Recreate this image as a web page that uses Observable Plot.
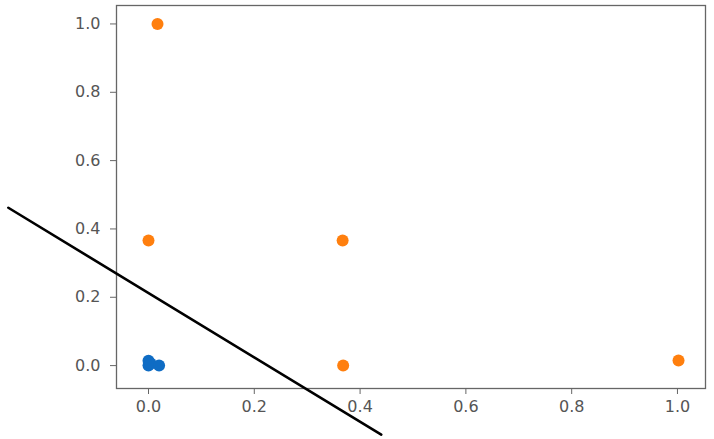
<!DOCTYPE html>
<html>
<head>
<meta charset="utf-8">
<script src="https://cdn.jsdelivr.net/npm/d3@7"></script>
<script src="https://cdn.jsdelivr.net/npm/@observablehq/plot@0.6"></script>
<style>
  html, body { margin: 0; padding: 0; background: #fff; }
  #chart svg { display: block; }
</style>
</head>
<body>
<div id="chart"></div>
<script>
// Class 1 (orange) points
const orangeX = [0.017, 0.0, 0.367, 0.368, 1.002];
const orangeY = [1.0, 0.366, 0.366, 0.0, 0.015];
// Class 0 (blue) points
const blueX = [0.0, 0.0, 0.004, 0.02];
const blueY = [0.0, 0.014, 0.006, 0.0];
// Decision boundary line endpoints
const lineX = [-0.265, 0.44];
const lineY = [0.462, -0.202];
// Tick values
const xTicks = [0.0, 0.2, 0.4, 0.6, 0.8, 1.0];
const yTicks = [0.0, 0.2, 0.4, 0.6, 0.8, 1.0];

const orange = orangeX.map((x, i) => ({x, y: orangeY[i]}));
const blue = blueX.map((x, i) => ({x, y: blueY[i]}));
const line = lineX.map((x, i) => ({x, y: lineY[i]}));

const chart = Plot.plot({
  width: 714,
  height: 439,
  marginLeft: 116,
  marginRight: 9,
  marginTop: 5,
  marginBottom: 51,
  style: {background: "#fff", fontFamily: "DejaVu Sans", fontSize: "16px", color: "#555"},
  x: {domain: [-0.0605, 1.053]},
  y: {domain: [-0.067, 1.054]},
  marks: [
    Plot.frame({stroke: "#666", strokeWidth: 1.3}),
    Plot.axisX({ticks: xTicks, tickFormat: d3.format(".1f"), tickSize: 6, tickPadding: 6, label: null, stroke: "#666", fill: "#555"}),
    Plot.axisY({ticks: yTicks, tickFormat: d3.format(".1f"), tickSize: 6, tickPadding: 10, label: null, stroke: "#666", fill: "#555"}),
    Plot.dot(orange, {x: "x", y: "y", r: 6, fill: "#ff7f0e"}),
    Plot.dot(blue, {x: "x", y: "y", r: 6, fill: "#0f6cc4"}),
    Plot.line(line, {x: "x", y: "y", stroke: "#000", strokeWidth: 2.6})
  ]
});
document.getElementById("chart").appendChild(chart);
</script>
</body>
</html>
